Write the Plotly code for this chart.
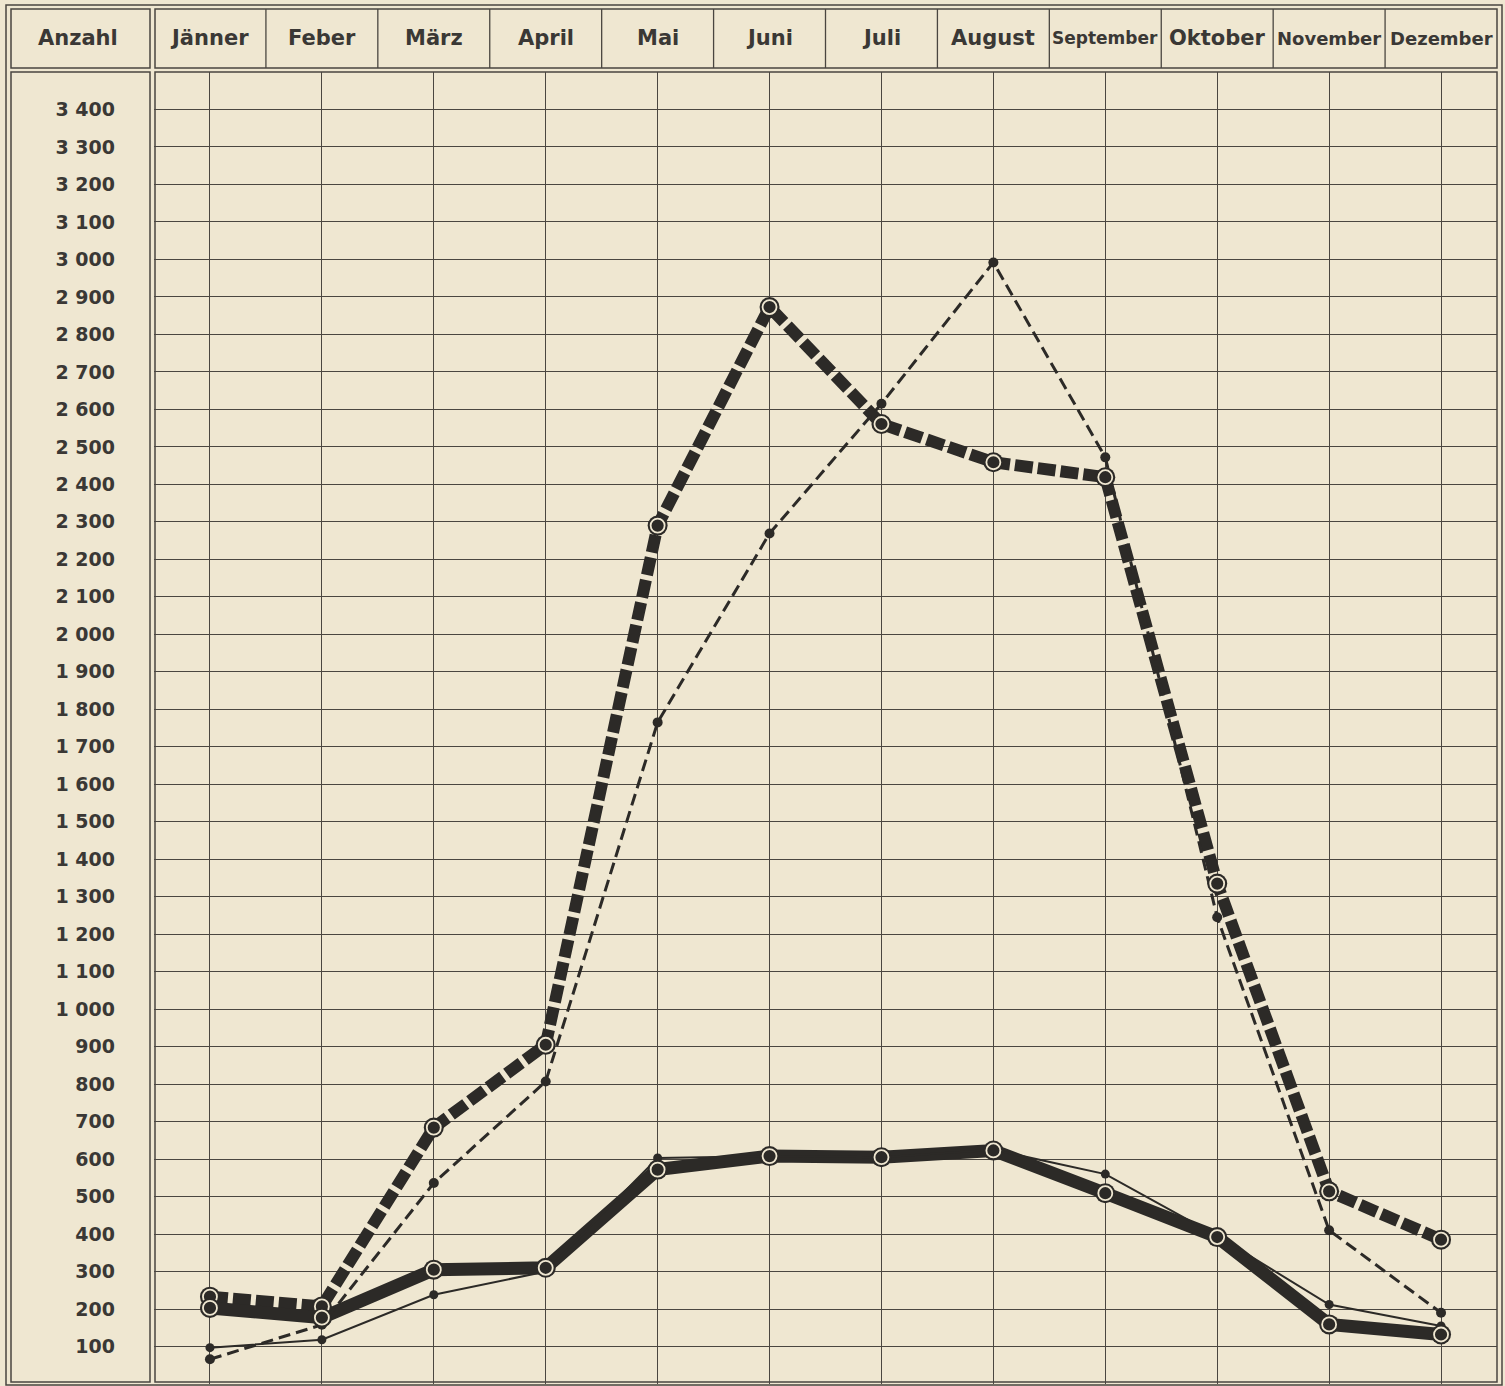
import plotly.graph_objects as go

# ---------------- data ----------------
months = ["Jänner", "Feber", "März", "April", "Mai", "Juni", "Juli",
          "August", "September", "Oktober", "November", "Dezember"]
y_tick_values = list(range(100, 3500, 100))

thick_dashed = [233, 207, 684, 905, 2290, 2873, 2561, 2459, 2419, 1335, 514, 385]
thin_dashed = [66, 158, 536, 807, 1765, 2269, 2615, 2992, 2472, 1245, 410, 190]
thick_solid = [203, 177, 305, 310, 572, 608, 605, 623, 509, 392, 159, 132]
thin_solid = [97, 118, 238, 300, 603, 608, 605, 625, 560, 395, 212, 155]

# ---------------- styling ----------------
W, H = 1505, 1386
ML, MR, MT, MB = 154, 8, 72, 2
PW, PH = W - ML - MR, H - MT - MB
BG = "#efe7d1"
INK = "#2c2a27"
GRID = "#4a4640"
TXT = "#3a3835"
FONT = "DejaVu Sans"


def px_x(px):
    return (px - ML) / PW


def px_y(py):
    return (H - MB - py) / PH


def header_size(label):
    # long month names are lettered narrower to fit their cell
    if len(label) >= 9:
        return 17
    if len(label) == 8:
        return 18
    return 21


x = list(range(len(months)))
fig = go.Figure()

# thick lines
fig.add_trace(go.Scatter(x=x, y=thick_dashed, mode="lines",
                         line=dict(color=INK, width=12, dash="18px,5px")))
fig.add_trace(go.Scatter(x=x, y=thick_solid, mode="lines",
                         line=dict(color=INK, width=13)))
# thin lines
fig.add_trace(go.Scatter(x=x, y=thin_dashed, mode="lines+markers",
                         line=dict(color=INK, width=3, dash="12px,6px"),
                         marker=dict(color=INK, size=10)))
fig.add_trace(go.Scatter(x=x, y=thin_solid, mode="lines+markers",
                         line=dict(color=INK, width=2),
                         marker=dict(color=INK, size=9)))
# ringed markers on thick series
for series in (thick_dashed, thick_solid):
    fig.add_trace(go.Scatter(x=x, y=series, mode="markers",
                             marker=dict(color=INK, size=20,
                                         line=dict(color=INK, width=0))))
    fig.add_trace(go.Scatter(x=x, y=series, mode="markers",
                             marker=dict(symbol="circle-open", size=14, color=BG,
                                         line=dict(color=BG, width=1.8))))

shapes = []
lw = 1.5
# outer frame
shapes.append(dict(type="rect", xref="paper", yref="paper",
                   x0=px_x(6), x1=px_x(1502), y0=px_y(1385), y1=px_y(5),
                   line=dict(color=GRID, width=lw)))
# header: Anzahl cell
shapes.append(dict(type="rect", xref="paper", yref="paper",
                   x0=px_x(11), x1=px_x(150), y0=px_y(68), y1=px_y(9),
                   line=dict(color=GRID, width=lw)))
# header: months cell
shapes.append(dict(type="rect", xref="paper", yref="paper",
                   x0=px_x(155), x1=px_x(1497), y0=px_y(68), y1=px_y(9),
                   line=dict(color=GRID, width=lw)))
# left column
shapes.append(dict(type="rect", xref="paper", yref="paper",
                   x0=px_x(11), x1=px_x(150), y0=px_y(1382), y1=px_y(72),
                   line=dict(color=GRID, width=lw)))
# plot area border
shapes.append(dict(type="rect", xref="paper", yref="paper",
                   x0=px_x(155), x1=px_x(1497), y0=px_y(1382), y1=px_y(72),
                   line=dict(color=GRID, width=lw)))
# header separators between months
for i in range(len(months) - 1):
    shapes.append(dict(type="line", xref="x", yref="paper",
                       x0=i + 0.5, x1=i + 0.5, y0=px_y(68), y1=px_y(9),
                       line=dict(color=GRID, width=1.3)))

annotations = [dict(text="<b>Anzahl</b>", xref="paper", yref="paper",
                    x=px_x(78), y=px_y(38), showarrow=False,
                    xanchor="center", yanchor="middle",
                    font=dict(family=FONT, size=21, color=TXT))]
for i, m in enumerate(months):
    annotations.append(dict(text=f"<b>{m}</b>", xref="x", yref="paper", x=i, y=px_y(38),
                            showarrow=False, xanchor="center", yanchor="middle",
                            font=dict(family=FONT, size=header_size(m), color=TXT)))

fig.update_layout(
    width=W, height=H,
    margin=dict(l=ML, r=MR, t=MT, b=MB, pad=0),
    paper_bgcolor=BG, plot_bgcolor=BG,
    showlegend=False,
    shapes=shapes, annotations=annotations,
    xaxis=dict(range=[-0.5, 11.5], tickvals=x, showticklabels=False,
               showgrid=True, gridcolor=GRID, gridwidth=1.3,
               zeroline=False, showline=False, ticks=""),
    yaxis=dict(range=[0, 3500], tickvals=y_tick_values,
               ticktext=[f"<b>{v:,}</b>".replace(",", " ") for v in y_tick_values],
               showgrid=True, gridcolor=GRID, gridwidth=1.3,
               zeroline=False, showline=False, ticks="",
               ticklabelstandoff=38,
               tickfont=dict(family=FONT, size=19, color=TXT)),
)

fig.write_html(
    "out.html",
    config={"displayModeBar": False},
    post_script="document.body.style.margin='0';"
                "document.body.style.background='" + BG + "';",
)
